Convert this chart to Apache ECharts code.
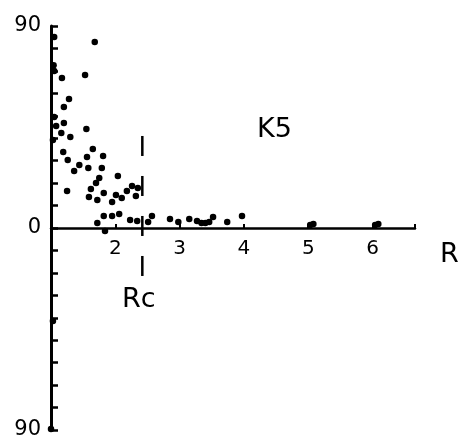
<!DOCTYPE html>
<html><head><meta charset="utf-8">
<script src="https://cdn.jsdelivr.net/npm/echarts@6/dist/echarts.min.js"></script>
<style>html,body{margin:0;padding:0;background:#fff}#c{width:461px;height:438px}</style>
</head><body><div id="c"></div>
<script>
// R values (x) and angle values (y) of the scatter points
const rValues = [1.05,1.68,1.04,1.05,1.17,1.53,1.28,1.20,1.05,1.08,1.20,1.16,1.03,1.30,1.55,1.19,1.26,1.36,1.44,1.56,
  1.65,1.81,1.58,1.79,1.75,1.70,2.04,1.62,1.82,1.25,1.59,1.72,2.01,1.95,2.10,2.18,2.26,2.35,2.32,1.82,
  1.95,2.06,1.72,1.84,2.23,2.34,2.51,2.57,2.85,2.98,3.15,3.27,3.34,3.40,3.46,3.52,3.74,3.97,5.03,5.08,
  6.04,6.09,1.03,1.0];
const angleValues = [85.1,82.9,72.5,70.0,66.8,68.2,57.5,53.9,49.4,45.4,46.8,42.3,39.2,40.5,44.1,33.9,30.3,25.4,28.1,31.6,
  35.2,32.1,26.7,26.7,22.3,20.0,23.2,17.4,15.6,16.5,13.8,12.5,14.7,11.6,13.4,16.5,18.7,17.8,14.3,5.3,
  5.3,6.2,2.2,-1.3,3.6,3.1,2.7,5.3,4.0,2.7,4.0,3.1,2.2,2.2,2.7,4.9,2.7,5.3,1.3,1.8,
  1.3,1.8,-41.4,-89.5];
const xTickLabels = ['2','3','4','5','6'];
const yTickLabels = {'90':'90','0':'0','-90':'90'};
const rcValue = 2.42;
const rcExtent = [41, -21.4];

const font = 'DejaVu Sans';
const points = rValues.map((r, i) => [r, angleValues[i]]);
const chart = echarts.init(document.getElementById('c'));
const gridTop = 26, gridBottom = 8, H = 438;
// pixel distance from grid bottom to y=0 (y range symmetric)
const zeroOffset = (H - gridTop - gridBottom) / 2;
chart.setOption({
  animation: false,
  backgroundColor: '#fff',
  grid: {left: 51, right: 46, top: gridTop, bottom: gridBottom, containLabel: false, outerBoundsMode: 'none'},
  xAxis: [{
    type: 'value', min: 1, max: 6.66, interval: 1,
    axisLine: {onZero: true, lineStyle: {color: '#000', width: 2.5}},
    axisTick: {show: true, inside: true, length: 4, lineStyle: {color: '#000', width: 2}},
    splitLine: {show: false},
    axisLabel: {show: false}
  }, {
    type: 'value', min: 1, max: 6.66, interval: 1, position: 'bottom', offset: -zeroOffset,
    axisLine: {show: false, onZero: false},
    axisTick: {show: false},
    splitLine: {show: false},
    axisLabel: {
      showMaxLabel: false, margin: 11, color: '#000', fontFamily: font, fontSize: 20,
      formatter: v => xTickLabels.includes(String(v)) ? String(v) : ''
    }
  }],
  yAxis: {
    type: 'value', min: -90, max: 90, interval: 10,
    axisLine: {lineStyle: {color: '#000', width: 3}},
    axisTick: {show: true, inside: true, length: 7, lineStyle: {color: '#000', width: 2.5}},
    splitLine: {show: false},
    axisLabel: {
      margin: 10, color: '#000', fontFamily: font, fontSize: 21,
      formatter: v => yTickLabels[String(v)] || ''
    }
  },
  series: [
    {type: 'scatter', data: points, symbolSize: 6.5, itemStyle: {color: '#000', opacity: 1}, z: 5},
    {type: 'line', data: [[rcValue, rcExtent[0]], [rcValue, rcExtent[1]]], symbol: 'none',
     lineStyle: {color: '#000', width: 2.5, type: [20, 20]}, z: 4}
  ],
  graphic: [
    {type: 'text', left: 257, top: 116, style: {text: 'K5', font: '27px "DejaVu Sans"', fill: '#000'}},
    {type: 'text', left: 440, top: 241, style: {text: 'R', font: '27px "DejaVu Sans"', fill: '#000'}},
    {type: 'text', left: 122, top: 286, style: {text: 'Rc', font: '27px "DejaVu Sans"', fill: '#000'}}
  ]
});
</script></body></html>
